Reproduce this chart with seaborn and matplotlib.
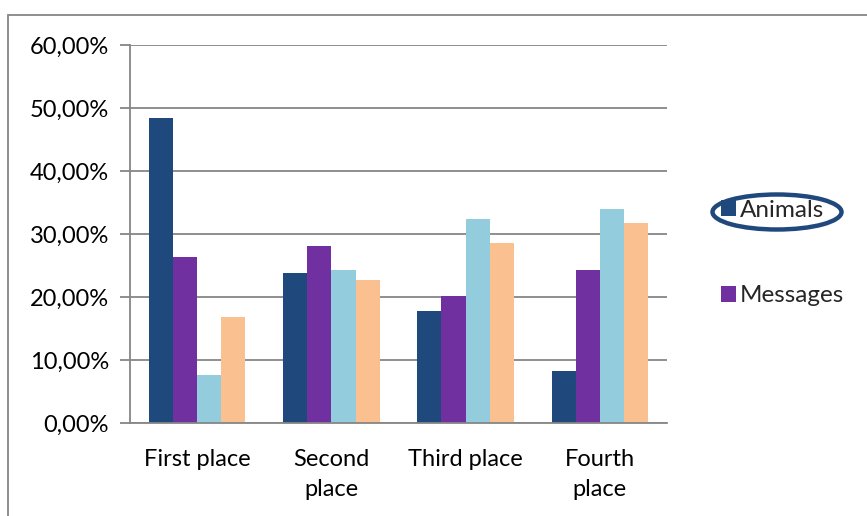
import pandas as pd
import seaborn as sns
import matplotlib.pyplot as plt
from matplotlib.ticker import FuncFormatter, FixedLocator
from matplotlib.patches import Ellipse, Rectangle

# Values (percent)
categories = ['First place', 'Second place', 'Third place', 'Fourth place']
tick_labels = ['First place', 'Second\nplace', 'Third place', 'Fourth\nplace']
series = ['Animals', 'Messages', 'Series 3', 'Series 4']
animals = [48.4, 23.8, 17.8, 8.2]
messages = [26.4, 28.1, 20.2, 24.3]
series3 = [7.6, 24.3, 32.4, 34.0]
series4 = [16.8, 22.7, 28.6, 31.8]
colors = ['#1F497D', '#7030A0', '#93CDDD', '#FAC090']

rows = []
for name, vals in zip(series, [animals, messages, series3, series4]):
    for cat, v in zip(categories, vals):
        rows.append({'place': cat, 'series': name, 'value': v})
df = pd.DataFrame(rows)

sns.set_style("white")
plt.rcParams['font.family'] = ['Lato', 'DejaVu Sans']
fs = 17

fig = plt.figure(figsize=(8.67, 5.16), dpi=100)
ax = fig.add_axes([130 / 867, 1 - 423 / 516, (667 - 130) / 867, (423 - 45) / 516])

sns.barplot(data=df, x='place', y='value', hue='series', order=categories,
            hue_order=series, palette=colors, width=0.72, saturation=1,
            gap=0, linewidth=0, ax=ax)

grid_c = '#868686'
ax.set_ylim(0, 60)
ax.set_xlim(-0.5, 3.5)
ax.set_yticks(range(0, 61, 10))
ax.yaxis.set_major_formatter(FuncFormatter(lambda v, p: f"{v:.2f}%".replace('.', ',')))
ax.grid(axis='y', color=grid_c, linewidth=1.3)
ax.set_axisbelow(True)
for s in ['top', 'right']:
    ax.spines[s].set_visible(False)
for s in ['left', 'bottom']:
    ax.spines[s].set_color(grid_c)
    ax.spines[s].set_linewidth(1.3)

ax.set_xticks(range(4))
ax.set_xticklabels(tick_labels, linespacing=1.5)
ax.xaxis.set_minor_locator(FixedLocator([-0.5, 0.5, 1.5, 2.5, 3.5]))
ax.tick_params(axis='x', which='major', length=0, pad=19, labelsize=fs, colors='black')
ax.tick_params(axis='x', which='minor', length=7, width=1.3, color=grid_c, direction='out')
ax.tick_params(axis='y', length=7, width=1.3, color=grid_c, direction='out',
               pad=8, labelsize=fs, labelcolor='black', left=True)
ax.set_xlabel('')
ax.set_ylabel('')

handles, labels = ax.get_legend_handles_labels()
ax.get_legend().remove()
fig.legend(handles[:2], labels[:2], loc='center left',
           bbox_to_anchor=(721 / 867, 1 - 253 / 516), frameon=False,
           fontsize=fs + 0.5, labelspacing=2.65, handlelength=0.62, handleheight=0.62,
           handletextpad=0.15, borderpad=0, borderaxespad=0)

fig.add_artist(Ellipse((777 / 867, 1 - 212 / 516), 129 / 867, 35 / 516,
                       transform=fig.transFigure, fill=False,
                       edgecolor='#1F497D', linewidth=3.2))
fig.add_artist(Rectangle((8 / 867, -0.1), 1.1, 1.1 - 15 / 516,
                         transform=fig.transFigure, fill=False,
                         edgecolor=grid_c, linewidth=1.3))

plt.savefig('out.png', dpi=100)
